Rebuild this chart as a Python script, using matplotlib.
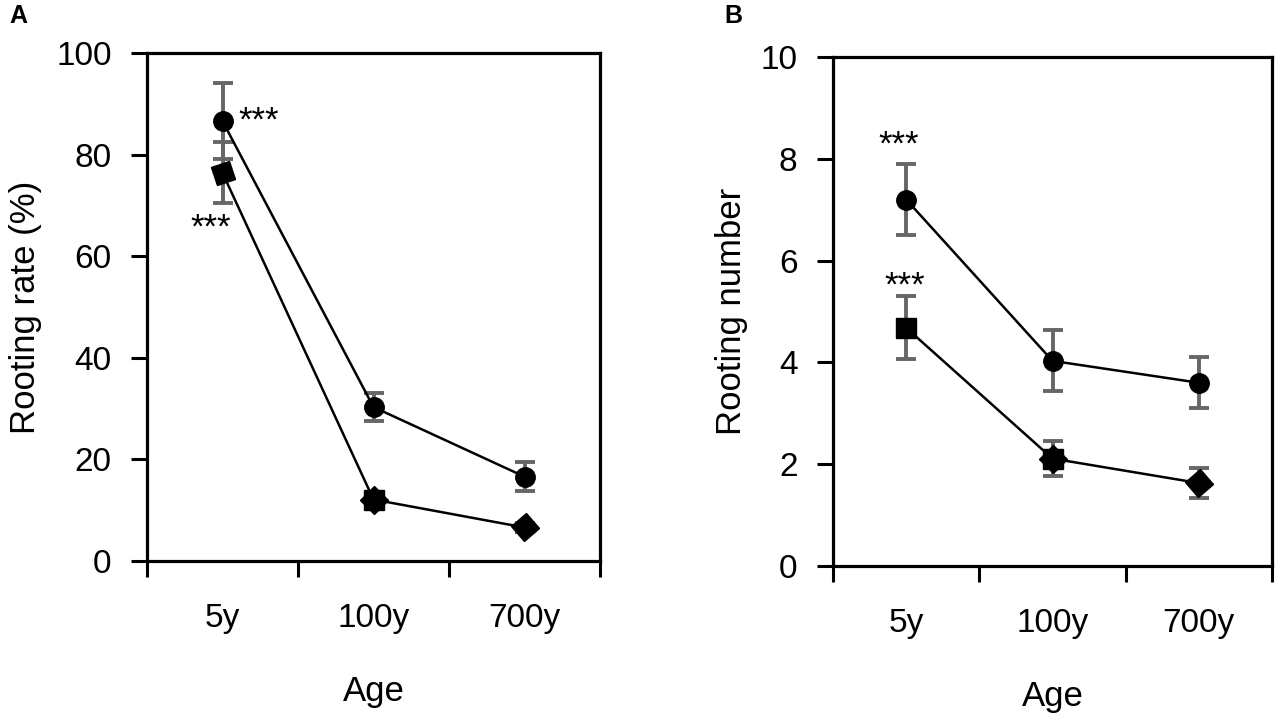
import matplotlib
matplotlib.use("Agg")
import matplotlib.pyplot as plt
from matplotlib.markers import MarkerStyle
from matplotlib.transforms import Affine2D

plt.rcParams['font.family'] = ['Liberation Sans', 'DejaVu Sans']

ages = ["5y", "100y", "700y"]

# Panel A: rooting rate (%)
rate_circle = [86.6, 30.3, 16.6]
rate_circle_err = [7.5, 2.8, 2.9]
rate_lower = [76.4, 12.1, 6.6]
rate_lower_err = [6.0, 1.2, 0.8]

# Panel B: rooting number
num_circle = [7.2, 4.03, 3.6]
num_circle_err = [0.7, 0.6, 0.5]
num_lower = [4.68, 2.11, 1.63]
num_lower_err = [0.62, 0.35, 0.29]

W, H = 1279, 717
fig = plt.figure(figsize=(W / 100, H / 100), dpi=100)

axA = fig.add_axes([147 / W, 1 - 561 / H, (600 - 147) / W, (561 - 53) / H])
axB = fig.add_axes([833 / W, 1 - 566 / H, (1272 - 833) / W, (566 - 57) / H])

xs = [0.5, 1.5, 2.5]
ERR_COLOR = '#666666'


def lower_markers(rot_first):
    sq = MarkerStyle('s', transform=Affine2D().rotate_deg(rot_first))
    star1 = MarkerStyle('s')
    star2 = MarkerStyle('D')
    dia = MarkerStyle('s', transform=Affine2D().rotate_deg(40))
    return [[sq], [star1, star2], [dia]]


def draw(ax, circ, circ_err, low, low_err, ymax, ystep, ylabel, rot_first, ylpad):
    ax.errorbar(xs, circ, yerr=circ_err, fmt='none', ecolor=ERR_COLOR,
                elinewidth=2.8, capsize=7, capthick=2.8, zorder=2)
    ax.errorbar(xs, low, yerr=low_err, fmt='none', ecolor=ERR_COLOR,
                elinewidth=2.8, capsize=7, capthick=2.8, zorder=2)
    ax.plot(xs, circ, color='black', lw=1.8, zorder=3)
    ax.plot(xs, low, color='black', lw=1.8, zorder=3)
    ax.plot(xs, circ, 'o', color='black', ms=14, zorder=4)
    for x, y, mks in zip(xs, low, lower_markers(rot_first)):
        for m in mks:
            ax.plot([x], [y], marker=m, color='black', ms=14, ls='none', zorder=4)

    ax.set_xlim(0, 3)
    ax.set_ylim(0, ymax)
    ax.set_xticks([0, 1, 2, 3])
    ax.set_xticklabels([])
    ax.set_xticks(xs, minor=True)
    ax.set_xticklabels(ages, minor=True)
    ax.tick_params(axis='x', which='major', direction='out', length=11.5, width=2.2)
    ax.tick_params(axis='x', which='minor', length=0, pad=30, labelsize=24)
    ax.set_yticks([i * ystep for i in range(6)])
    ax.tick_params(axis='y', direction='out', length=11.5, width=2.2, pad=14, labelsize=24)
    for s in ax.spines.values():
        s.set_linewidth(2.3)
    ax.set_xlabel("Age", fontsize=25, labelpad=30)
    ax.set_ylabel(ylabel, fontsize=25, labelpad=ylpad)


draw(axA, rate_circle, rate_circle_err, rate_lower, rate_lower_err, 100, 20,
     "Rooting rate (%)", 20, 10)
draw(axB, num_circle, num_circle_err, num_lower, num_lower_err, 10, 2,
     "Rooting number", 0, 9)

star_kw = dict(textcoords='offset pixels', fontsize=25, ha='center', va='center')
axA.annotate("***", (xs[0], rate_circle[0]), xytext=(36, 0), **star_kw)
axA.annotate("***", (xs[0], rate_lower[0]), xytext=(-12, -55), **star_kw)
axB.annotate("***", (xs[0], num_circle[0]), xytext=(-7, 54), **star_kw)
axB.annotate("***", (xs[0], num_lower[0]), xytext=(-1, 42), **star_kw)

fig.text(9 / W, 1 - 16 / H, "A", fontsize=18, fontweight='bold', va='center', ha='left')
fig.text(724 / W, 1 - 16 / H, "B", fontsize=18, fontweight='bold', va='center', ha='left')

fig.savefig("out.png", dpi=100)
